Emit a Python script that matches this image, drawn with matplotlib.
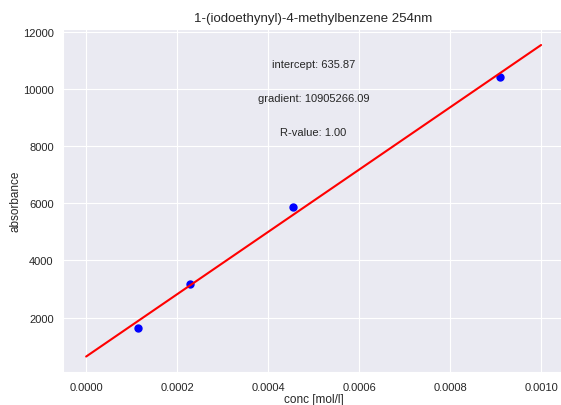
import matplotlib
matplotlib.use('Agg')
import matplotlib.pyplot as plt
import seaborn as sns
import numpy as np

sns.set_style('darkgrid')
plt.rcParams['font.family'] = ['Liberation Sans', 'DejaVu Sans']

# measured data
conc = [0.0001137, 0.0002275, 0.000455, 0.00091]
absorbance = [1620, 3190, 5865, 10410]
intercept = 635.87
gradient = 10905266.09
r_value = 1.00
fit_range = [0.0, 0.001]

fig = plt.figure(figsize=(5.61, 4.06), dpi=100)
ax = fig.add_axes([0.113, 0.081, 0.892, 0.844])

x_fit = np.array(fit_range)
ax.plot(conc, absorbance, 'o', color='blue', markersize=5)
ax.plot(x_fit, intercept + gradient * x_fit, color='red', linewidth=1.5)

ax.text(0.5, 0.9, 'intercept: %.2f' % intercept, transform=ax.transAxes,
        ha='center', va='center', fontsize=8, color='#262626')
ax.text(0.5, 0.8, 'gradient: %.2f' % gradient, transform=ax.transAxes,
        ha='center', va='center', fontsize=8, color='#262626')
ax.text(0.5, 0.7, 'R-value: %.2f' % r_value, transform=ax.transAxes,
        ha='center', va='center', fontsize=8, color='#262626')

ax.set_title('1-(iodoethynyl)-4-methylbenzene 254nm', fontsize=9.5)
ax.set_xlabel('conc [mol/l]', fontsize=8.5, labelpad=1)
ax.set_ylabel('absorbance', fontsize=8.5, labelpad=1)
ax.tick_params(labelsize=8)
ax.set_yticks([2000, 4000, 6000, 8000, 10000, 12000])

fig.savefig('out.png', dpi=100)
